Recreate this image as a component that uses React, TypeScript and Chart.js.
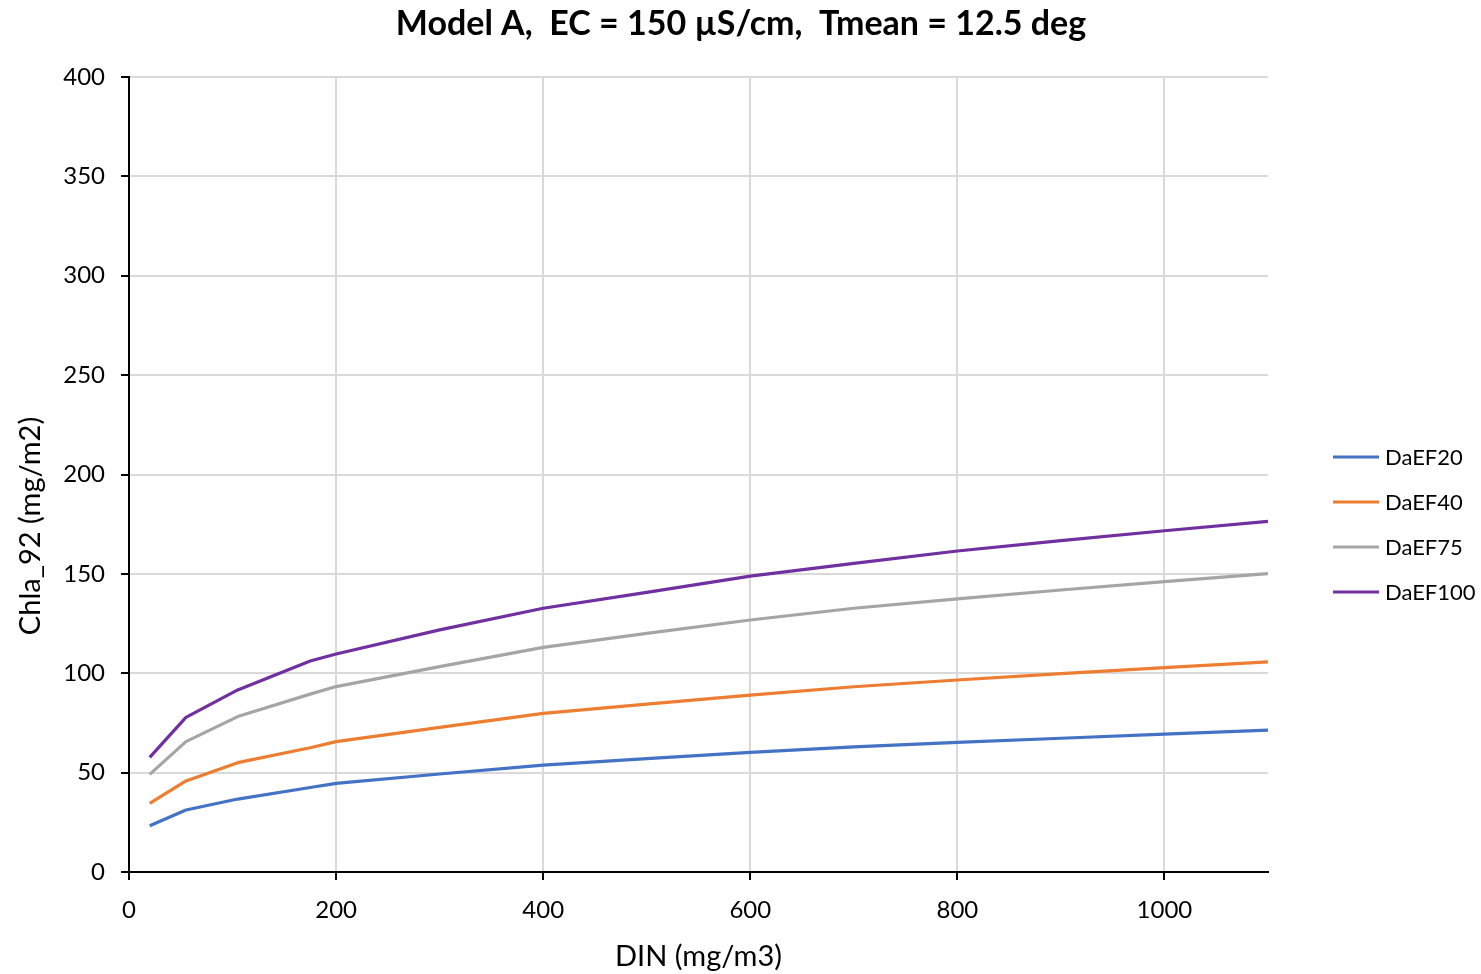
import React, { useEffect, useRef } from "react";
import { Chart, registerables } from "chart.js";

Chart.register(...registerables);

const din = [20, 55, 105, 175, 200, 300, 400, 500, 600, 700, 800, 900, 1000, 1100];
const daef20 = [23.3, 31.2, 36.7, 42.5, 44.6, 49.3, 53.8, 57.0, 60.2, 63.0, 65.2, 67.3, 69.4, 71.4];
const daef40 = [34.5, 45.8, 55.0, 62.5, 65.6, 72.8, 79.8, 84.5, 89.0, 93.2, 96.6, 99.8, 102.8, 105.7];
const daef75 = [49.1, 65.6, 78.2, 89.5, 93.3, 103.3, 113.0, 120.1, 126.8, 132.7, 137.4, 141.9, 146.1, 150.1];
const daef100 = [57.7, 77.8, 91.6, 106.2, 109.7, 121.8, 132.7, 140.7, 148.9, 155.3, 161.5, 166.7, 171.7, 176.4];

const seriesNames = ["DaEF20", "DaEF40", "DaEF75", "DaEF100"];
const seriesValues = [daef20, daef40, daef75, daef100];
const seriesColors = ["#4472C4", "#ED7D31", "#A5A5A5", "#7030A0"];

const titleText = "Model A,  EC = 150 \u00B5S/cm,  Tmean = 12.5 deg";
const xTitle = "DIN (mg/m3)";
const yTitle = "Chla_92 (mg/m2)";

const FONT = "Lato, 'Open Sans', sans-serif";

export default function App() {
  const ref = useRef<HTMLCanvasElement | null>(null);

  useEffect(() => {
    if (!ref.current) return;
    const decor = {
      id: "decor",
      afterDraw(chart: any) {
        const ctx = chart.ctx;
        ctx.save();
        // title
        ctx.fillStyle = "#000";
        ctx.font = `bold 34px ${FONT}`;
        ctx.textAlign = "center";
        ctx.textBaseline = "middle";
        ctx.fillText(titleText, 741, 24);
        // y title
        ctx.save();
        ctx.translate(31, 526);
        ctx.rotate(-Math.PI / 2);
        ctx.font = `29px ${FONT}`;
        ctx.fillText(yTitle, 0, 0);
        ctx.restore();
        // legend
        ctx.font = `22px ${FONT}`;
        ctx.textAlign = "left";
        seriesNames.forEach((n, i) => {
          const y = 457 + i * 45;
          ctx.strokeStyle = seriesColors[i];
          ctx.lineWidth = 3;
          ctx.beginPath();
          ctx.moveTo(1333, y);
          ctx.lineTo(1379, y);
          ctx.stroke();
          ctx.fillStyle = "#000";
          ctx.fillText(n, 1385, y + 1);
        });
        ctx.restore();
      },
    };

    const chart = new Chart(ref.current, {
      type: "line",
      data: {
        datasets: seriesNames.map((n, i) => ({
          label: n,
          data: din.map((x, j) => ({ x, y: seriesValues[i][j] })),
          borderColor: seriesColors[i],
          backgroundColor: seriesColors[i],
          borderWidth: 3.2,
          pointRadius: 0,
          tension: 0,
          borderJoinStyle: "round",
          fill: false,
        })),
      },
      options: {
        responsive: false,
        animation: false,
        layout: { padding: { top: 77, right: 213, left: 0, bottom: 0 } },
        plugins: {
          legend: { display: false },
          title: { display: false },
          tooltip: { enabled: false },
        },
        scales: {
          x: {
            type: "linear",
            min: 0,
            max: 1100,
            ticks: {
              stepSize: 200,
              includeBounds: false,
              color: "#000",
              font: { family: FONT, size: 24 },
              padding: 16,
              maxRotation: 0,
              callback: (v: any) => String(v),
            },
            grid: { color: "#d9d9d9", lineWidth: 2, tickColor: "#000", tickLength: 8, tickWidth: 2 },
            border: { color: "#000", width: 2 },
            title: {
              display: true,
              text: xTitle,
              color: "#000",
              font: { family: FONT, size: 29 },
              padding: { top: 6, bottom: 0 },
            },
            afterFit(scale: any) {
              scale.height = 102;
            },
          },
          y: {
            type: "linear",
            min: 0,
            max: 400,
            ticks: {
              stepSize: 50,
              color: "#000",
              font: { family: FONT, size: 24 },
              padding: 16,
            },
            grid: { color: "#d9d9d9", lineWidth: 2, tickColor: "#000", tickLength: 8, tickWidth: 2 },
            border: { color: "#000", width: 2 },
            afterFit(scale: any) {
              scale.width = 129;
            },
          },
        },
      },
      plugins: [decor],
    } as any);
    return () => chart.destroy();
  }, []);

  return (
    <div style={{ position: "fixed", left: 0, top: 0, width: 1481, height: 974, background: "#fff" }}>
      <canvas ref={ref} width={1481} height={974} style={{ width: 1481, height: 974 }} />
    </div>
  );
}
